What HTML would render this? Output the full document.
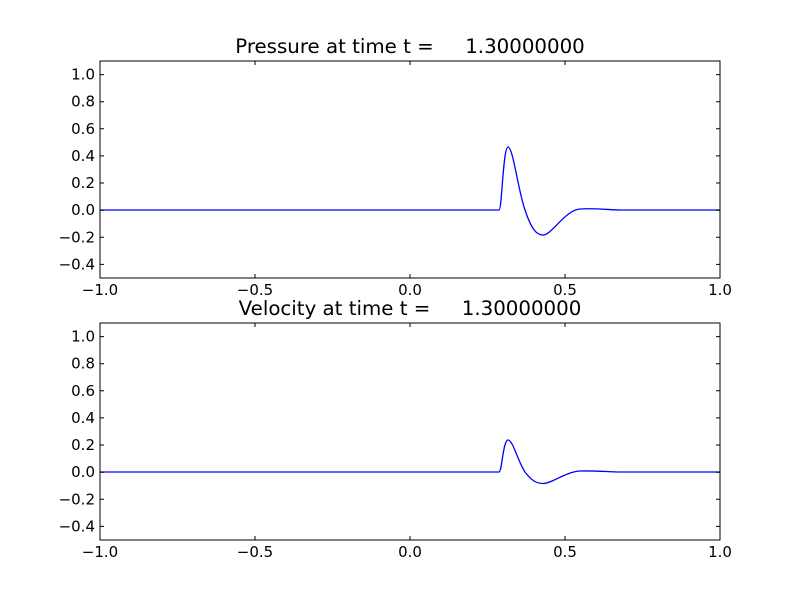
<!DOCTYPE html>
<html><head><style>body{margin:0;background:#fff} text{white-space:pre}</style></head><body>
<svg width="800" height="600" xmlns="http://www.w3.org/2000/svg" font-family="DejaVu Sans, Liberation Sans, sans-serif">
<rect width="800" height="600" fill="#fff"/>
<g>
<text x="410" y="53" font-size="19.8" text-anchor="middle" xml:space="preserve">Pressure at time t =     1.30000000</text>
<path d="M100,210 L499,210 C502,210 503,147 508,147 C513,147 518,190 525,210 C531,228 536,235 543,235 C552,235 565,210 580,209 C595,208 610,210 620,210 L720,210" fill="none" stroke="#0000ff" stroke-width="1.3"/>
<rect x="100" y="61" width="620" height="217" fill="none" stroke="#000"/>
<g stroke="#000">
<path d="M100,278v-4M255,278v-4M410,278v-4M565,278v-4M720,278v-4M100,61v4M255,61v4M410,61v4M565,61v4M720,61v4"/>
<path d="M100,264.4h4M100,237.3h4M100,210.2h4M100,183h4M100,155.9h4M100,128.8h4M100,101.7h4M100,74.6h4M720,264.4h-4M720,237.3h-4M720,210.2h-4M720,183h-4M720,155.9h-4M720,128.8h-4M720,101.7h-4M720,74.6h-4"/>
</g>
<g font-size="15" text-anchor="end">
<text x="95" y="269.4">−0.4</text><text x="95" y="242.3">−0.2</text><text x="95" y="215.2">0.0</text><text x="95" y="188">0.2</text><text x="95" y="160.9">0.4</text><text x="95" y="133.8">0.6</text><text x="95" y="106.7">0.8</text><text x="95" y="79.6">1.0</text>
</g>
<g font-size="15" text-anchor="middle">
<text x="100" y="295">−1.0</text><text x="255" y="295">−0.5</text><text x="410" y="295">0.0</text><text x="565" y="295">0.5</text><text x="720" y="295">1.0</text>
</g>
</g>
<g>
<text x="410" y="315" font-size="19.8" text-anchor="middle" xml:space="preserve">Velocity at time t =     1.30000000</text>
<path d="M100,472 L499,472 C502,472 503,440 508,440 C513,440 518,462 525,472 C531,480 536,483.5 543,483.5 C552,483.5 565,472 580,471 C595,470.5 610,472 620,472 L720,472" fill="none" stroke="#0000ff" stroke-width="1.3"/>
<rect x="100" y="323" width="620" height="217" fill="none" stroke="#000"/>
<g stroke="#000">
<path d="M100,540v-4M255,540v-4M410,540v-4M565,540v-4M720,540v-4M100,323v4M255,323v4M410,323v4M565,323v4M720,323v4"/>
<path d="M100,526.4h4M100,499.3h4M100,472.2h4M100,445h4M100,417.9h4M100,390.8h4M100,363.7h4M100,336.6h4M720,526.4h-4M720,499.3h-4M720,472.2h-4M720,445h-4M720,417.9h-4M720,390.8h-4M720,363.7h-4M720,336.6h-4"/>
</g>
<g font-size="15" text-anchor="end">
<text x="95" y="531.4">−0.4</text><text x="95" y="504.3">−0.2</text><text x="95" y="477.2">0.0</text><text x="95" y="450">0.2</text><text x="95" y="422.9">0.4</text><text x="95" y="395.8">0.6</text><text x="95" y="368.7">0.8</text><text x="95" y="341.6">1.0</text>
</g>
<g font-size="15" text-anchor="middle">
<text x="100" y="557">−1.0</text><text x="255" y="557">−0.5</text><text x="410" y="557">0.0</text><text x="565" y="557">0.5</text><text x="720" y="557">1.0</text>
</g>
</g>
</svg>
</body></html>
